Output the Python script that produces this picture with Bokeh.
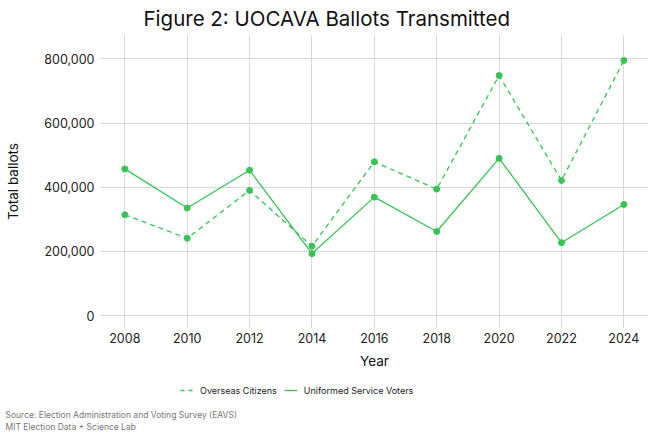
import numpy as np
from bokeh.plotting import figure
from bokeh.layouts import column
from bokeh.models import (ColumnDataSource, Legend, LegendItem, Title,
                          NumeralTickFormatter, FixedTicker, Range1d)
from bokeh.embed import file_html
from bokeh.resources import INLINE

# values
years = [2008, 2010, 2012, 2014, 2016, 2018, 2020, 2022, 2024]
overseas = [314000, 241000, 390000, 216000, 479000, 394000, 748000, 421000, 795000]
uniformed = [457000, 335000, 453000, 193000, 369000, 262000, 490000, 227000, 346000]
y_ticks = [0, 200000, 400000, 600000, 800000]
captions = ["Source: Election Administration and Voting Survey (EAVS)",
            "MIT Election Data + Science Lab"]

FONT = "Inter"
GREEN = "#38c357"
W = 655

src = ColumnDataSource(data=dict(year=years, overseas=overseas, uniformed=uniformed))

p = figure(width=W, height=376, output_backend="svg", toolbar_location=None,
           x_range=Range1d(2007.22, 2024.79), y_range=Range1d(-40500, 876000),
           min_border_left=100, min_border_right=7, min_border_top=34,
           min_border_bottom=48)

p.title.text = "Figure 2: UOCAVA Ballots Transmitted"
p.title.align = "left"
p.title.offset = 43
p.title.text_font = FONT
p.title.text_font_size = "20.5px"
p.title.text_font_style = "normal"
p.title.text_color = "#111111"
p.title.standoff = 7

p.outline_line_color = None
for ax in (p.xaxis, p.yaxis):
    ax.axis_line_color = None
    ax.major_tick_line_color = None
    ax.minor_tick_line_color = None
    ax.major_tick_out = 0
    ax.major_tick_in = 0
    ax.major_label_text_font = FONT
    ax.major_label_text_font_size = "12.5px"
    ax.major_label_text_color = "#222222"
    ax.axis_label_text_font = FONT
    ax.axis_label_text_font_size = "13.5px"
    ax.axis_label_text_font_style = "normal"
    ax.axis_label_text_color = "#111111"

p.xaxis.ticker = FixedTicker(ticks=years)
p.yaxis.ticker = FixedTicker(ticks=y_ticks)
p.yaxis.formatter = NumeralTickFormatter(format="0,0")
p.xaxis.axis_label = "Year"
p.yaxis.axis_label = "Total ballots"
p.xaxis.major_label_standoff = 4
p.xaxis.axis_label_standoff = 7
p.yaxis.major_label_standoff = 6
p.yaxis.axis_label_standoff = 20

p.grid.grid_line_color = "#d9d9d9"
p.grid.grid_line_width = 1

l1 = p.line("year", "overseas", source=src, line_color=GREEN, line_width=1.3,
            line_dash="5 4")
p.scatter("year", "overseas", source=src, size=6, fill_color=GREEN,
          line_color=GREEN)
l2 = p.line("year", "uniformed", source=src, line_color=GREEN, line_width=1.3)
p.scatter("year", "uniformed", source=src, size=6, fill_color=GREEN,
          line_color=GREEN)

# footer: legend in the frame, source captions as titles below it
f = figure(width=W, height=55, output_backend="svg", toolbar_location=None,
           x_range=Range1d(0, 1), y_range=Range1d(0, 1), min_border=0)
f.axis.visible = False
f.grid.visible = False
f.outline_line_color = None
g1 = f.line([np.nan], [np.nan], line_color=GREEN, line_width=1.3, line_dash="4 4")
g2 = f.line([np.nan], [np.nan], line_color=GREEN, line_width=1.3)

legend = Legend(items=[LegendItem(label="Overseas Citizens", renderers=[g1]),
                       LegendItem(label="Uniformed Service Voters", renderers=[g2])],
                orientation="horizontal", location=(80, 7),
                label_text_font=FONT, label_text_font_size="9px",
                label_text_color="#222222", border_line_color=None,
                background_fill_alpha=0, glyph_width=13, glyph_height=20,
                spacing=7, margin=0, padding=0, label_standoff=7)
f.add_layout(legend)

for txt in captions:
    f.add_layout(Title(text=txt, align="left", offset=-95, standoff=0,
                       text_font=FONT, text_font_size="8.5px",
                       text_font_style="normal", text_color="#777777"), "below")

open("out.html", "w").write(file_html(column(p, f, spacing=0), INLINE))
